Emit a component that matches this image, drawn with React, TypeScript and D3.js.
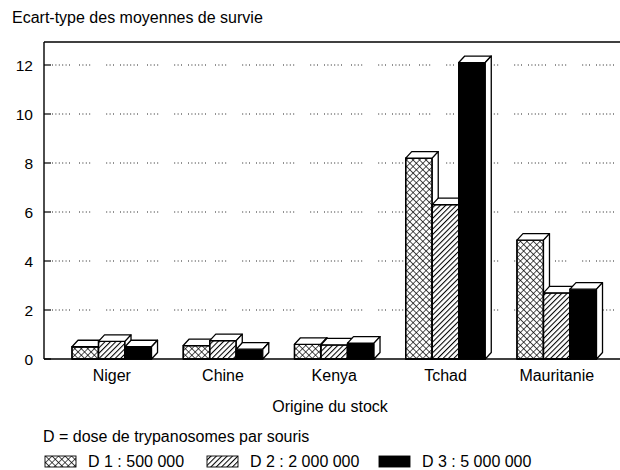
import React from "react";
import * as d3 from "d3";

const categories = ["Niger", "Chine", "Kenya", "Tchad", "Mauritanie"];
const doses = ["D1", "D2", "D3"];
const d1Values = [0.5, 0.55, 0.6, 8.2, 4.85];
const d2Values = [0.72, 0.75, 0.58, 6.3, 2.7];
const d3Values = [0.5, 0.4, 0.65, 12.1, 2.85];
const yTicks = [0, 2, 4, 6, 8, 10, 12];
const legendLabels = ["D 1 : 500 000", "D 2 : 2 000 000", "D 3 : 5 000 000"];

const W = 620;
const H = 470;
const FONT = "'Liberation Sans', Arial, Helvetica, sans-serif";

export default function App() {
  const series = [d1Values, d2Values, d3Values];
  const fills = ["url(#cross)", "url(#hatch)", "#000"];

  // scales
  const x = d3.scaleBand().domain(categories).range([55.3, 613.2]).paddingInner(0.285).paddingOuter(0.15);
  const xs = d3.scaleBand().domain(doses).range([0, x.bandwidth()]);
  const y = d3.scaleLinear().domain([0, 12]).range([359, 65]);

  const axisX = 44;
  const top = 42;
  const dx = 6;
  const dy = 6.5;

  // broken dotted look of the scanned gridlines
  const dots = "1 2.4 1 2.4 1 2.4 1 2.4 1 2.4 1 9 1 2.4 1 2.4 1 2.4 1 16 1 2.4 1 2.4 1 6";

  const bars: React.ReactNode[] = [];
  categories.forEach((c, ci) => {
    doses.forEach((d, di) => {
      const v = series[di][ci];
      const x0 = (x(c) as number) + (xs(d) as number);
      const x1 = x0 + xs.bandwidth();
      const y0 = y(0);
      const y1 = y(v);
      bars.push(
        <g key={c + d} stroke="#000" strokeWidth={1.3} strokeLinejoin="round">
          <rect x={x0} y={y1} width={x1 - x0} height={y0 - y1} fill="#fff" />
          <rect x={x0} y={y1} width={x1 - x0} height={y0 - y1} fill={fills[di]} />
          <path d={`M${x0},${y1}L${x0 + dx},${y1 - dy}L${x1 + dx},${y1 - dy}L${x1},${y1}Z`} fill="#fff" />
          <path d={`M${x1},${y1}L${x1 + dx},${y1 - dy}L${x1 + dx},${y0 - dy}L${x1},${y0}Z`} fill="#fff" />
        </g>
      );
    });
  });

  const legendX = [45, 207, 379];

  return (
    <svg width={W} height={H} style={{ position: "absolute", left: 0, top: 0, background: "#fff" }} fontFamily={FONT}>
      <defs>
        <pattern id="cross" width={4.6} height={4.6} patternUnits="userSpaceOnUse" patternTransform="rotate(45)">
          <path d="M0,0H4.6M0,0V4.6" stroke="#000" strokeWidth={1.3} />
        </pattern>
        <pattern id="hatch" width={3.8} height={3.8} patternUnits="userSpaceOnUse" patternTransform="rotate(45)">
          <path d="M0.5,0V3.8" stroke="#000" strokeWidth={1.1} />
        </pattern>
      </defs>

      <text x={12} y={23} fontSize={16}>Ecart-type des moyennes de survie</text>

      {/* grid + ticks */}
      {yTicks.map((t) => (
        <g key={t}>
          {t > 0 && (
            <line x1={axisX + 8} x2={W} y1={y(t)} y2={y(t)} stroke="#222" strokeWidth={1} strokeDasharray={dots} />
          )}
          <line x1={axisX} x2={axisX + 7} y1={y(t)} y2={y(t)} stroke="#000" strokeWidth={1.2} />
          <text x={33} y={y(t) + 5.5} fontSize={15.5} textAnchor="end">{t}</text>
        </g>
      ))}

      {/* frame */}
      <line x1={axisX} x2={W} y1={top} y2={top} stroke="#000" strokeWidth={1.3} />
      <line x1={axisX} x2={axisX} y1={top} y2={y(0)} stroke="#000" strokeWidth={1.4} />

      {bars}

      <line x1={axisX} x2={W} y1={y(0)} y2={y(0)} stroke="#000" strokeWidth={1.4} />

      {categories.map((c) => (
        <text key={c} x={(x(c) as number) + x.bandwidth() / 2} y={381} fontSize={16} textAnchor="middle">{c}</text>
      ))}
      <text x={330} y={412} fontSize={16} textAnchor="middle">Origine du stock</text>

      <text x={43} y={442} fontSize={16}>D = dose de trypanosomes par souris</text>
      {legendLabels.map((l, i) => (
        <g key={l}>
          <rect x={legendX[i]} y={456} width={31} height={11} fill="#fff" />
          <rect x={legendX[i]} y={456} width={31} height={11} fill={fills[i]} stroke="#000" strokeWidth={0.9} />
          <text x={legendX[i] + 43} y={467} fontSize={16}>{l}</text>
        </g>
      ))}
    </svg>
  );
}
